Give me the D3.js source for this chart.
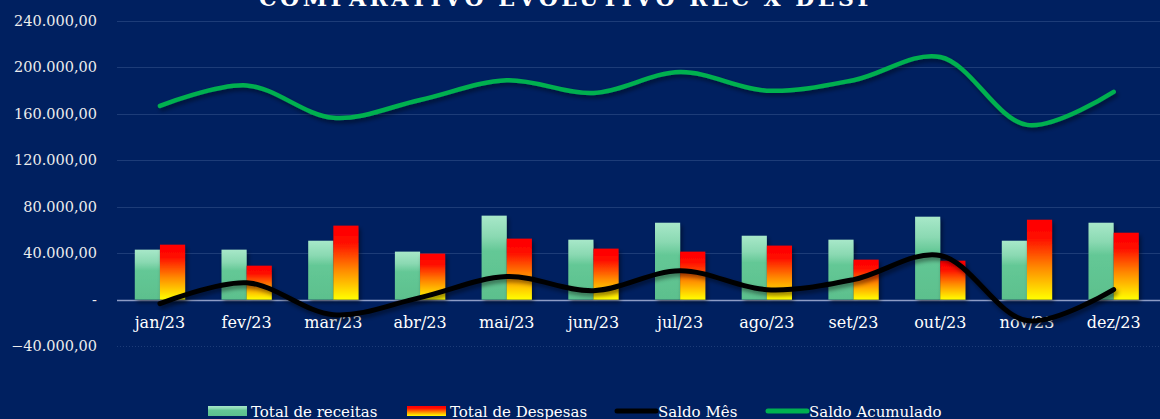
<!DOCTYPE html>
<html>
<head>
<meta charset="utf-8">
<script src="https://cdn.jsdelivr.net/npm/d3@7"></script>
<style>
  html, body { margin: 0; padding: 0; background: #002060; }
  svg { display: block; }
</style>
</head>
<body>
<svg id="chart"></svg>
<script>
const width = 1160;
const height = 419;

const months = ["jan/23", "fev/23", "mar/23", "abr/23", "mai/23", "jun/23",
  "jul/23", "ago/23", "set/23", "out/23", "nov/23", "dez/23"];
const receitas = [43000, 43000, 50700, 41300, 72300, 51600, 66200, 55000, 51600, 71400, 50700, 66200];
const despesas = [47300, 29200, 63700, 39600, 52500, 43900, 41300, 46500, 34400, 33500, 68800, 57600];
const saldoMes = [-3500, 14500, -13000, 1700, 19800, 7700, 24900, 8500, 17200, 38000, -18100, 8600];
const saldoAcum = [166900, 184500, 156600, 172000, 189000, 178000, 196000, 180000, 189000, 209000, 150500, 179000];
const yTicks = [-40000, 0, 40000, 80000, 120000, 160000, 200000, 240000];

const svg = d3.select("#chart")
  .attr("width", width)
  .attr("height", height)
  .style("background", "#002060");

const defs = svg.append("defs");

const gGreen = defs.append("linearGradient").attr("id", "gradRec")
  .attr("x1", 0).attr("y1", 0).attr("x2", 0).attr("y2", 1);
gGreen.append("stop").attr("offset", "0%").attr("stop-color", "#a8e8c9");
gGreen.append("stop").attr("offset", "25%").attr("stop-color", "#8ad9b2");
gGreen.append("stop").attr("offset", "42%").attr("stop-color", "#64c896");
gGreen.append("stop").attr("offset", "100%").attr("stop-color", "#5cc08d");

const gRed = defs.append("linearGradient").attr("id", "gradDesp")
  .attr("x1", 0).attr("y1", 0).attr("x2", 0).attr("y2", 1);
gRed.append("stop").attr("offset", "0%").attr("stop-color", "#ff0000");
gRed.append("stop").attr("offset", "22%").attr("stop-color", "#ff0a00");
gRed.append("stop").attr("offset", "60%").attr("stop-color", "#ff8a00");
gRed.append("stop").attr("offset", "100%").attr("stop-color", "#ffff00");

const shadow = defs.append("filter").attr("id", "shadow")
  .attr("x", "-20%").attr("y", "-20%").attr("width", "150%").attr("height", "150%");
shadow.append("feDropShadow")
  .attr("dx", 2).attr("dy", 3).attr("stdDeviation", 2)
  .attr("flood-color", "#000").attr("flood-opacity", 0.45);

const x = d3.scaleBand()
  .domain(months)
  .range([116.6, 1157])
  .paddingInner(0.42)
  .paddingOuter(0.21);

const xs = d3.scaleBand()
  .domain(["rec", "desp"])
  .range([0, x.bandwidth()]);

const y = d3.scaleLinear()
  .domain([-40000, 240000])
  .range([346, 21]);

const fmt = v => v === 0 ? "-" : d3.format(",.2f")(v).replace(/,/g, "#").replace(/\./g, ",").replace(/#/g, ".");

// grid
svg.append("g")
  .selectAll("line")
  .data(yTicks)
  .join("line")
  .attr("x1", 117).attr("x2", width)
  .attr("y1", d => Math.round(y(d)) + 0.5).attr("y2", d => Math.round(y(d)) + 0.5)
  .attr("stroke", d => d === 0 ? "#8d9cc6" : "#1d3c78")
  .attr("stroke-width", d => d === 0 ? 1.5 : 1)
  .attr("stroke-dasharray", d => d === -40000 ? "1,2" : null);

// y labels
svg.append("g")
  .selectAll("text")
  .data(yTicks)
  .join("text")
  .attr("x", 97)
  .attr("y", d => y(d) + 5)
  .attr("text-anchor", "end")
  .attr("fill", "#ececec")
  .style("font", "14.5px 'DejaVu Serif'")
  .text(fmt);

// x labels
svg.append("g")
  .selectAll("text")
  .data(months)
  .join("text")
  .attr("x", d => x(d) + x.bandwidth() / 2)
  .attr("y", 328)
  .attr("text-anchor", "middle")
  .attr("fill", "#ffffff")
  .style("font", "16px 'DejaVu Serif'")
  .text(d => d);

// bars
const groups = svg.append("g")
  .selectAll("g")
  .data(months)
  .join("g")
  .attr("transform", d => `translate(${x(d)},0)`);

groups.append("rect")
  .attr("x", xs("rec"))
  .attr("width", xs.bandwidth())
  .attr("y", (d, i) => y(receitas[i]))
  .attr("height", (d, i) => y(0) - y(receitas[i]))
  .attr("fill", "url(#gradRec)")
  .attr("filter", "url(#shadow)");

groups.append("rect")
  .attr("x", xs("desp"))
  .attr("width", xs.bandwidth())
  .attr("y", (d, i) => y(despesas[i]))
  .attr("height", (d, i) => y(0) - y(despesas[i]))
  .attr("fill", "url(#gradDesp)")
  .attr("filter", "url(#shadow)");

// lines
const line = d3.line()
  .x((d, i) => x(months[i]) + x.bandwidth() / 2)
  .y(d => y(d))
  .curve(d3.curveCatmullRom.alpha(0.5));

svg.append("path")
  .datum(saldoAcum)
  .attr("d", line)
  .attr("fill", "none")
  .attr("stroke", "#00b050")
  .attr("stroke-width", 4.5)
  .attr("stroke-linecap", "round")
  .attr("filter", "url(#shadow)");

svg.append("path")
  .datum(saldoMes)
  .attr("d", line)
  .attr("fill", "none")
  .attr("stroke", "#000000")
  .attr("stroke-width", 5)
  .attr("stroke-linecap", "round")
  .attr("filter", "url(#shadow)");

// title (cut by the top edge)
svg.append("text")
  .attr("x", 259)
  .attr("y", 6)
  .attr("textLength", 615)
  .attr("lengthAdjust", "spacing")
  .attr("fill", "#ffffff")
  .style("font", "bold 22px 'DejaVu Serif'")
  .text("COMPARATIVO EVOLUTIVO REC X DESP");

// legend
const legend = svg.append("g").style("font", "15px 'DejaVu Serif'");
const items = [
  { name: "Total de receitas", x: 208, kind: "rect", fill: "url(#gradRec)" },
  { name: "Total de Despesas", x: 407, kind: "rect", fill: "url(#gradDesp)" },
  { name: "Saldo Mês", x: 615, kind: "line", fill: "#000000" },
  { name: "Saldo Acumulado", x: 766, kind: "line", fill: "#00b050" }
];
items.forEach(it => {
  if (it.kind === "rect") {
    legend.append("rect")
      .attr("x", it.x).attr("y", 406).attr("width", 39).attr("height", 10)
      .attr("fill", it.fill);
  } else {
    legend.append("line")
      .attr("x1", it.x + 2).attr("x2", it.x + 41)
      .attr("y1", 411).attr("y2", 411)
      .attr("stroke", it.fill)
      .attr("stroke-width", 5)
      .attr("stroke-linecap", "round");
  }
  legend.append("text")
    .attr("x", it.x + 43)
    .attr("y", 417)
    .attr("fill", "#ffffff")
    .text(it.name);
});
</script>
</body>
</html>
